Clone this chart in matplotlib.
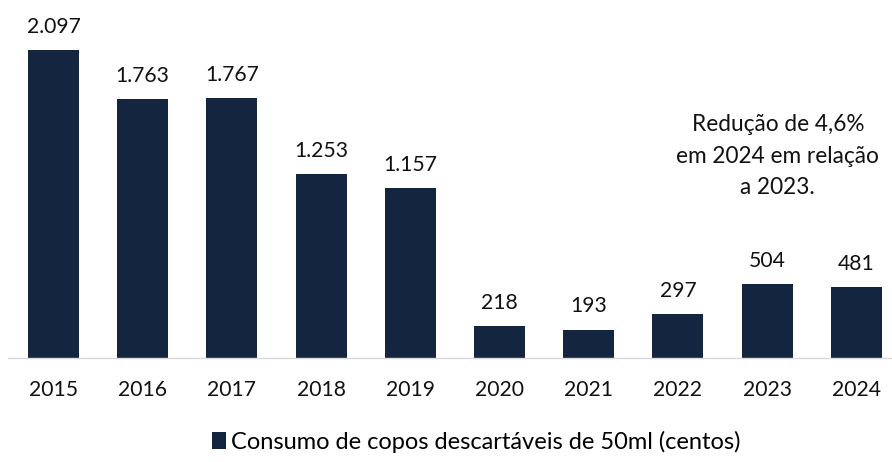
import matplotlib
matplotlib.use("Agg")
import matplotlib.pyplot as plt
from matplotlib.patches import Patch

years = ["2015", "2016", "2017", "2018", "2019", "2020", "2021", "2022", "2023", "2024"]
values = [2097, 1763, 1767, 1253, 1157, 218, 193, 297, 504, 481]
value_labels = ["2.097", "1.763", "1.767", "1.253", "1.157", "218", "193", "297", "504", "481"]
series_name = "Consumo de copos descartáveis de 50ml (centos)"
note = "Redução de 4,6%\nem 2024 em relação\na 2023."

plt.rcParams['font.family'] = ['Lato', 'DejaVu Sans']
color = "#13253f"

fig = plt.figure(figsize=(8.92, 4.62), dpi=100)
ax = fig.add_axes([8/892, 104/462, 884/892, 358/462])
x = list(range(len(years)))
ax.bar(x, values, width=0.57, color=color)
ax.set_xlim(-0.51, 9.4)
ax.set_ylim(0, 2437)
for xi, v, lab in zip(x, values, value_labels):
    ax.annotate(lab, (xi, v), xytext=(0, 12.5), textcoords="offset points",
                ha="center", va="baseline", fontsize=15.2, color="#111111")
ax.set_xticks(x)
ax.set_xticklabels(years, fontsize=15.2, color="#111111")
ax.tick_params(axis="x", length=0, pad=16)
ax.set_yticks([])
for s in ["top", "right", "left"]:
    ax.spines[s].set_visible(False)
ax.spines["bottom"].set_color("#d9d9d9")
ax.spines["bottom"].set_linewidth(1.0)

ax.text(8.12, 1375, note, ha="center", va="center", fontsize=16.3,
        color="#111111", linespacing=1.62)

handle = Patch(facecolor=color, edgecolor="none")
fig.legend([handle], [series_name], loc="center", bbox_to_anchor=(476/892, 1 - 442/462),
           frameon=False, fontsize=17.0, handlelength=0.6, handleheight=0.75,
           handletextpad=0.2)

fig.savefig("out.png", dpi=100)
